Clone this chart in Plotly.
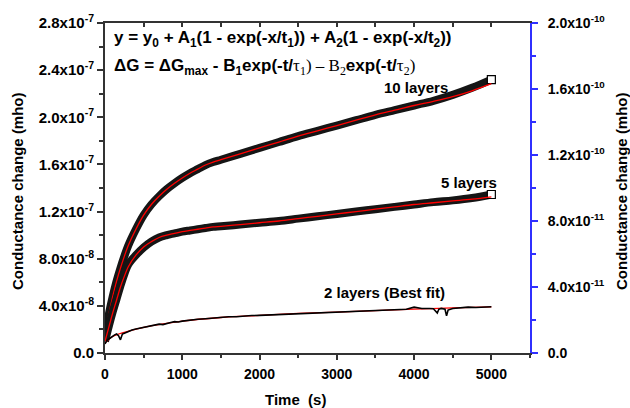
import plotly.graph_objects as go

# ---------------- data ----------------
time_s = [0, 50, 100, 150, 200, 250, 300, 400, 500, 600, 700, 800, 900, 1000,
          1100, 1200, 1300, 1400, 1500, 1750, 2000, 2250, 2500, 2750, 3000,
          3250, 3500, 3750, 4000, 4250, 4500, 4750, 5000]

layers10_data = [1.5, 3.3, 4.8, 6.1, 7.2, 8.2, 9.1, 10.5, 11.7, 12.6, 13.3, 13.9,
                 14.4, 14.85, 15.25, 15.6, 15.95, 16.2, 16.4, 16.9, 17.4, 17.9,
                 18.4, 18.85, 19.3, 19.75, 20.2, 20.6, 21.0, 21.4, 21.9, 22.5, 23.2]
layers10_fit = [1.5, 3.3, 4.8, 6.1, 7.2, 8.2, 9.1, 10.5, 11.7, 12.6, 13.3, 13.9,
                14.4, 14.85, 15.25, 15.6, 15.95, 16.2, 16.4, 16.9, 17.4, 17.9,
                18.4, 18.85, 19.3, 19.75, 20.2, 20.6, 21.0, 21.35, 21.75, 22.25, 22.85]

layers5_data = [1.0, 2.3, 3.5, 4.6, 5.7, 6.7, 7.5, 8.3, 8.95, 9.45, 9.8, 10.0,
                10.15, 10.3, 10.4, 10.5, 10.6, 10.7, 10.75, 10.9, 11.05, 11.2,
                11.4, 11.6, 11.8, 12.0, 12.2, 12.4, 12.6, 12.8, 12.95, 13.15, 13.45]
layers5_fit = [1.0, 2.2, 3.4, 4.5, 5.6, 6.5, 7.3, 8.3, 9.0, 9.45, 9.8, 10.0,
               10.15, 10.3, 10.4, 10.5, 10.6, 10.7, 10.75, 10.9, 11.05, 11.2,
               11.4, 11.6, 11.8, 12.0, 12.2, 12.4, 12.6, 12.75, 12.9, 13.05, 13.25]
scale_left = 1e-8

time2_s = [0, 25, 50, 75, 100, 125, 150, 175, 200, 225, 250, 300, 350, 400, 450,
           500, 550, 600, 650, 700, 750, 800, 850, 900, 950, 1000, 1100, 1200,
           1300, 1400, 1500, 1600, 1700, 1800, 1900, 2000, 2100, 2200, 2300,
           2400, 2500, 2600, 2700, 2800, 2900, 3000, 3100, 3200, 3300, 3400,
           3500, 3600, 3700, 3800, 3900, 4000, 4050, 4100, 4200, 4250, 4300,
           4320, 4350, 4400, 4420, 4440, 4500, 4600, 4700, 4800, 4900, 5000]
layers2_data = [0.55, 0.75, 0.85, 0.95, 1.0, 1.1, 1.15, 1.05, 0.8, 1.15, 1.2, 1.3,
                1.4, 1.45, 1.5, 1.55, 1.6, 1.65, 1.7, 1.75, 1.72, 1.8, 1.85, 1.9,
                1.88, 1.93, 2.0, 2.05, 2.08, 2.13, 2.15, 2.2, 2.2, 2.25, 2.27,
                2.28, 2.3, 2.33, 2.35, 2.36, 2.4, 2.41, 2.43, 2.45, 2.45, 2.48,
                2.5, 2.52, 2.52, 2.55, 2.57, 2.6, 2.62, 2.62, 2.65, 2.78, 2.72,
                2.7, 2.7, 2.68, 2.42, 2.65, 2.7, 2.65, 2.25, 2.6, 2.7, 2.75, 2.78,
                2.76, 2.8, 2.8]
time2_fit_s = [0, 100, 250, 500, 1000, 1500, 2000, 2500, 3000, 3500, 4000, 4500, 5000]
layers2_fit = [0.6, 1.0, 1.25, 1.55, 1.93, 2.15, 2.28, 2.4, 2.48, 2.57, 2.66, 2.73, 2.8]
scale_right = 1e-11

x_ticks = [0, 1000, 2000, 3000, 4000, 5000]
x_minor = [500, 1500, 2500, 3500, 4500, 5500]
yl_ticks = [0, 4e-8, 8e-8, 1.2e-7, 1.6e-7, 2.0e-7, 2.4e-7, 2.8e-7]
yl_text = ["0.0", "4.0x10<sup>-8</sup>", "8.0x10<sup>-8</sup>", "1.2x10<sup>-7</sup>",
           "1.6x10<sup>-7</sup>", "2.0x10<sup>-7</sup>", "2.4x10<sup>-7</sup>",
           "2.8x10<sup>-7</sup>"]
yl_minor = [2e-8, 6e-8, 1.0e-7, 1.4e-7, 1.8e-7, 2.2e-7, 2.6e-7]
yr_ticks = [0, 4e-11, 8e-11, 1.2e-10, 1.6e-10, 2.0e-10]
yr_text = ["0.0", "4.0x10<sup>-11</sup>", "8.0x10<sup>-11</sup>", "1.2x10<sup>-10</sup>",
           "1.6x10<sup>-10</sup>", "2.0x10<sup>-10</sup>"]
yr_minor = [2e-11, 6e-11, 1.0e-10, 1.4e-10, 1.8e-10]

# ---------------- figure ----------------
FONT = "Liberation Sans, Arial, sans-serif"
AX = "#333333"
BLUE = "#3030ff"
fig = go.Figure()

for data, fit in [(layers10_data, layers10_fit), (layers5_data, layers5_fit)]:
    yd = [v * scale_left for v in data]
    yf = [v * scale_left for v in fit]
    fig.add_trace(go.Scatter(x=time_s, y=yd, mode="lines", line_shape="spline",
                             line=dict(color="#151515", width=8),
                             showlegend=False, hoverinfo="skip"))
    fig.add_trace(go.Scatter(x=time_s[-1:], y=yd[-1:], mode="markers",
                             marker=dict(symbol="square", size=8, color="white",
                                         line=dict(color="black", width=1.2)),
                             showlegend=False, hoverinfo="skip"))
    fig.add_trace(go.Scatter(x=time_s, y=yf, mode="lines", line_shape="spline",
                             line=dict(color="red", width=1.3),
                             showlegend=False, hoverinfo="skip"))

fig.add_trace(go.Scatter(x=time2_fit_s, y=[v * scale_right for v in layers2_fit],
                         mode="lines", line_shape="spline", yaxis="y2",
                         line=dict(color="red", width=1.3),
                         showlegend=False, hoverinfo="skip"))
fig.add_trace(go.Scatter(x=time2_s, y=[v * scale_right for v in layers2_data],
                         mode="lines", yaxis="y2",
                         line=dict(color="black", width=1.6),
                         showlegend=False, hoverinfo="skip"))

# invisible trace on top axis so it renders
fig.add_trace(go.Scatter(x=[0], y=[0], xaxis="x2", mode="markers",
                         marker=dict(opacity=0), showlegend=False, hoverinfo="skip"))

tickfont = dict(family=FONT, size=15, color="black", weight="bold")

fig.update_layout(
    width=630, height=408,
    margin=dict(l=105, r=100, t=21, b=55),
    paper_bgcolor="white", plot_bgcolor="white",
    xaxis=dict(range=[0, 5500], tickvals=x_ticks, ticktext=[str(v) for v in x_ticks],
               ticks="outside", ticklen=5, tickwidth=1.5, tickcolor=AX,
               showline=True, linecolor=AX, linewidth=2, showgrid=False, zeroline=False,
               tickfont=dict(family=FONT, size=14, color="black", weight="bold"),
               ticklabelstandoff=2,
               minor=dict(tickvals=x_minor, ticks="outside", ticklen=3, tickcolor=AX, tickwidth=1.5)),
    xaxis2=dict(range=[0, 5500], overlaying="x", side="top", tickvals=x_ticks,
                ticks="inside", ticklen=4, tickwidth=1.5, tickcolor=AX,
                showticklabels=False, showline=True, linecolor=AX, linewidth=2,
                showgrid=False, zeroline=False,
                minor=dict(tickvals=x_minor[:-1], ticks="inside", ticklen=4, tickcolor=AX, tickwidth=1.5)),
    yaxis=dict(range=[0, 2.8e-7], tickvals=yl_ticks, ticktext=yl_text,
               ticks="outside", ticklen=6, tickwidth=1.5, tickcolor=AX,
               showline=True, linecolor=AX, linewidth=2, showgrid=False, zeroline=False,
               tickfont=tickfont,
               minor=dict(tickvals=yl_minor, ticks="outside", ticklen=4, tickcolor=AX, tickwidth=1.5)),
    yaxis2=dict(range=[0, 2.0e-10], overlaying="y", side="right", tickvals=yr_ticks,
                ticktext=yr_text, ticks="outside", ticklen=6, tickwidth=1.5,
                tickcolor=BLUE, showline=True, linecolor=BLUE, linewidth=2,
                showgrid=False, zeroline=False,
                tickfont=dict(family=FONT, size=14, color="black", weight="bold"),
                ticklabelstandoff=7,
                minor=dict(tickvals=yr_minor, ticks="outside", ticklen=4, tickcolor=BLUE, tickwidth=1.5)),
)

TN = "<span style='font-family:Liberation Serif, Times New Roman, serif;font-weight:normal'>"
ann_font = dict(family=FONT, size=17, color="black", weight="bold")
annotations = [
    dict(x=0.016, y=0.952, xanchor="left", yanchor="middle",
         text="y = y<sub>0</sub> + A<sub>1</sub>(1 - exp(-x/t<sub>1</sub>)) + A<sub>2</sub>(1 - exp(-x/t<sub>2</sub>))",
         font=ann_font),
    dict(x=0.016, y=0.868, xanchor="left", yanchor="middle",
         text="ΔG = ΔG<sub>max</sub> - B<sub>1</sub>exp(-t/" + TN + "τ<sub>1</sub>) – B<sub>2</sub></span>exp(-t/" + TN + "τ<sub>2</sub>)</span>",
         font=ann_font),
    dict(x=(416 - 105) / 425, y=(353 - 86) / 332, text="10 layers",
         font=dict(family=FONT, size=15, color="black", weight="bold")),
    dict(x=(469 - 105) / 425, y=(353 - 181) / 332, text="5 layers",
         font=dict(family=FONT, size=15, color="black", weight="bold")),
    dict(x=(384 - 105) / 425, y=(353 - 292) / 332, text="2 layers (Best fit)",
         font=dict(family=FONT, size=15, color="black", weight="bold")),
    dict(x=(295 - 105) / 425, y=(353 - 400) / 332, text="Time  (s)",
         font=dict(family=FONT, size=15, color="black", weight="bold")),
    dict(x=(18 - 105) / 425, y=(353 - 190) / 332, text="Conductance change (mho)", textangle=-90,
         font=dict(family=FONT, size=15, color="black", weight="bold")),
    dict(x=(622 - 105) / 425, y=(353 - 190) / 332, text="Conductance change (mho)", textangle=-90,
         font=dict(family=FONT, size=15, color="black", weight="bold")),
]
for a in annotations:
    a.update(xref="paper", yref="paper", showarrow=False)
    a.setdefault("xanchor", "center")
    a.setdefault("yanchor", "middle")
fig.update_layout(annotations=annotations)

fig.write_html("out.html")
